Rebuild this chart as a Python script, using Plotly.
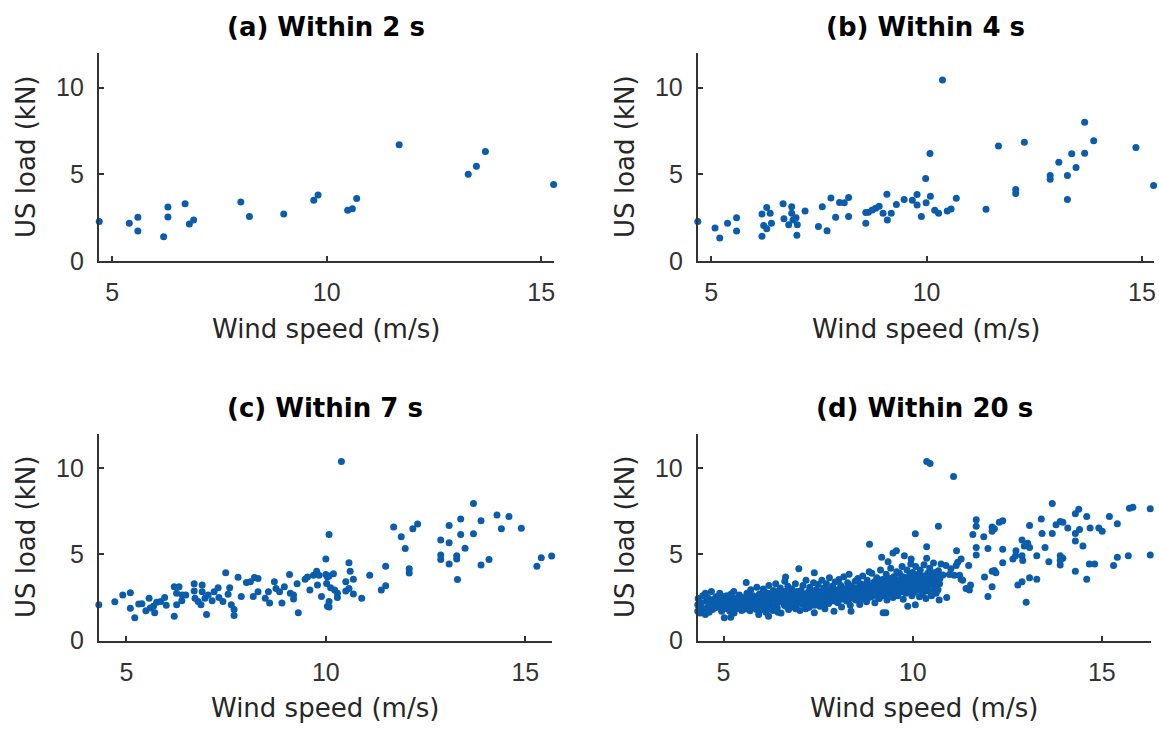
import plotly.graph_objects as go

# ---------------- data ----------------
panel_titles = ["(a) Within 2 s", "(b) Within 4 s", "(c) Within 7 s", "(d) Within 20 s"]
x_title = "Wind speed (m/s)"
y_title = "US load (kN)"
x_ticks = [5, 10, 15]
y_ticks = [0, 5, 10]

a_points = [
    (4.70, 2.28), (5.40, 2.18), (5.60, 2.52), (5.60, 1.73), (6.20, 1.40), (6.30, 3.11),
    (6.30, 2.54), (6.70, 3.30), (6.80, 2.13), (6.90, 2.37), (8.00, 3.40), (8.20, 2.56),
    (9.00, 2.71), (9.70, 3.51), (9.80, 3.80), (10.49, 2.92), (10.60, 3.02), (10.70, 3.61),
    (11.69, 6.70), (13.30, 5.00), (13.49, 5.46), (13.70, 6.32), (15.29, 4.41),
]

b_points = [
    (4.69, 2.28), (5.09, 1.90), (5.20, 1.33), (5.38, 2.18), (5.59, 2.50), (5.59, 1.73),
    (6.18, 2.71), (6.18, 1.42), (6.22, 2.05), (6.29, 3.09), (6.29, 1.86), (6.37, 2.75),
    (6.40, 2.18), (6.67, 3.30), (6.69, 2.43), (6.80, 2.09), (6.87, 3.13), (6.87, 2.75),
    (6.90, 2.37), (6.97, 2.50), (7.00, 2.09), (6.99, 1.48), (7.18, 2.88), (7.49, 1.99),
    (7.58, 3.13), (7.69, 1.75), (7.78, 3.64), (7.89, 2.52), (7.98, 3.38), (8.09, 3.36),
    (8.19, 3.66), (8.19, 2.56), (8.59, 2.79), (8.59, 2.18), (8.65, 2.81), (8.74, 2.94),
    (8.82, 3.04), (8.90, 3.15), (8.99, 2.75), (9.08, 3.85), (9.09, 2.37), (9.18, 2.75),
    (9.30, 3.26), (9.48, 3.55), (9.67, 3.51), (9.78, 3.83), (9.78, 3.23), (9.88, 2.56),
    (9.98, 4.76), (9.99, 3.36), (10.08, 6.20), (10.09, 3.74), (10.19, 2.92), (10.28, 2.75),
    (10.37, 10.44), (10.48, 2.88), (10.57, 3.00), (10.69, 3.62), (11.38, 2.98), (11.67, 6.64),
    (12.07, 4.12), (12.07, 3.89), (12.27, 6.85), (12.87, 4.93), (12.87, 4.71), (13.07, 5.69),
    (13.27, 4.93), (13.27, 3.55), (13.37, 6.19), (13.47, 5.39), (13.67, 8.01), (13.67, 6.22),
    (13.88, 6.94), (14.86, 6.55), (15.27, 4.35),
]

c_points = [
    (4.31, 2.08), (4.71, 2.25), (4.91, 2.65), (5.10, 2.77), (5.10, 1.88), (5.21, 1.33),
    (5.31, 2.12), (5.39, 2.14), (5.49, 1.74), (5.57, 2.46), (5.60, 1.89), (5.68, 1.99),
    (5.71, 1.61), (5.76, 2.23), (5.86, 2.27), (5.96, 2.50), (6.00, 2.05), (6.20, 3.13),
    (6.20, 1.42), (6.26, 2.75), (6.26, 2.08), (6.32, 3.13), (6.39, 2.31), (6.40, 2.65),
    (6.49, 2.65), (6.70, 3.30), (6.70, 2.88), (6.72, 2.46), (6.80, 2.27), (6.87, 2.08),
    (6.90, 3.22), (6.90, 2.84), (6.97, 2.46), (7.01, 1.52), (7.05, 2.65), (7.15, 2.31),
    (7.20, 2.84), (7.30, 3.07), (7.32, 2.50), (7.42, 2.27), (7.49, 3.94), (7.55, 2.69),
    (7.59, 3.07), (7.63, 2.08), (7.70, 1.80), (7.70, 1.46), (7.80, 3.67), (7.88, 2.56),
    (8.01, 3.37), (8.11, 3.41), (8.21, 3.66), (8.30, 3.60), (8.30, 2.84), (8.18, 2.56),
    (8.48, 2.46), (8.56, 2.84), (8.59, 2.18), (8.71, 3.41), (8.75, 3.03), (8.84, 2.84),
    (8.90, 2.18), (8.96, 3.13), (9.09, 3.83), (9.11, 2.75), (9.19, 2.65), (9.19, 2.42),
    (9.28, 3.30), (9.31, 1.61), (9.48, 3.56), (9.54, 3.69), (9.60, 2.94), (9.69, 3.79),
    (9.77, 4.02), (9.79, 3.22), (9.83, 3.79), (9.89, 2.56), (10.00, 4.73), (10.04, 3.69),
    (10.04, 1.99), (10.39, 10.38), (10.08, 6.16), (10.00, 3.83), (10.08, 3.75), (10.19, 3.88),
    (10.02, 3.31), (10.12, 3.07), (10.22, 2.94), (10.29, 2.75), (10.29, 2.50), (10.08, 2.27),
    (10.08, 1.95), (10.50, 3.41), (10.58, 4.51), (10.61, 4.02), (10.69, 3.56), (10.50, 2.88),
    (10.58, 3.03), (10.69, 2.71), (10.90, 2.46), (11.10, 3.79), (11.50, 4.32), (11.50, 3.18),
    (11.39, 2.94), (11.70, 6.59), (11.89, 6.02), (11.99, 5.34), (12.09, 4.17), (12.09, 3.92),
    (12.18, 6.48), (12.30, 6.76), (12.88, 5.83), (12.88, 4.96), (12.88, 4.70), (13.09, 6.67),
    (13.09, 5.68), (13.09, 4.45), (13.28, 4.92), (13.28, 4.73), (13.30, 3.54), (13.38, 7.05),
    (13.38, 6.16), (13.49, 5.36), (13.70, 7.95), (13.70, 6.19), (13.89, 6.95), (13.89, 4.39),
    (14.09, 4.70), (14.29, 7.29), (14.40, 6.48), (14.59, 7.20), (14.90, 6.52), (15.29, 4.32),
    (15.40, 4.81), (15.66, 4.91),
]

d_points = [
    (4.32, 2.08), (4.32, 1.70), (4.35, 1.95), (4.52, 2.75), (4.52, 1.52), (4.55, 2.30), (4.60, 2.00),
    (4.71, 2.37), (4.71, 1.80), (4.75, 2.10), (4.80, 2.55), (4.85, 1.95), (4.90, 2.75), (4.92, 2.20),
    (4.95, 1.70), (4.98, 2.40),
    (5.02, 1.33), (5.05, 2.05), (5.08, 2.60), (5.10, 1.85), (5.15, 2.30), (5.19, 1.36), (5.20, 2.70),
    (5.25, 2.00), (5.28, 1.60), (5.30, 2.45), (5.35, 2.15), (5.40, 1.90), (5.42, 2.65), (5.45, 2.30),
    (5.48, 1.75),
    (5.50, 2.50), (5.55, 2.10), (5.60, 3.37), (5.60, 1.85), (5.62, 2.75), (5.65, 2.35), (5.70, 1.74),
    (5.72, 2.95), (5.75, 2.20), (5.78, 2.60), (5.80, 1.95), (5.85, 2.45), (5.88, 3.10), (5.90, 2.05),
    (5.93, 1.52), (5.95, 2.70), (5.98, 2.30),
    (6.00, 1.80), (6.02, 2.55), (6.05, 3.00), (6.08, 2.15), (6.10, 2.80), (6.12, 1.65), (6.15, 2.40),
    (6.19, 1.42), (6.20, 3.20), (6.22, 2.00), (6.25, 2.65), (6.28, 2.25), (6.30, 1.75), (6.32, 2.90),
    (6.35, 2.45), (6.38, 3.30), (6.40, 2.10), (6.42, 1.90), (6.45, 2.70), (6.48, 2.35),
    (6.50, 3.05), (6.52, 1.60), (6.55, 2.55), (6.58, 2.20), (6.60, 2.85), (6.62, 3.45), (6.64, 3.69),
    (6.65, 2.00), (6.68, 2.40), (6.70, 3.15), (6.72, 1.80), (6.75, 2.70), (6.78, 2.25), (6.80, 3.00),
    (6.82, 2.50), (6.85, 1.95), (6.88, 2.80), (6.90, 3.30), (6.92, 2.10), (6.95, 2.60), (6.99, 4.17),
    (6.98, 2.35),
    (7.02, 1.75), (7.05, 2.90), (7.08, 2.45), (7.10, 3.20), (7.12, 2.10), (7.15, 2.70), (7.18, 3.50),
    (7.20, 2.30), (7.22, 1.90), (7.25, 2.85), (7.28, 3.10), (7.30, 2.50), (7.32, 2.15), (7.35, 2.75),
    (7.38, 3.35), (7.40, 3.94), (7.40, 1.61), (7.42, 2.40), (7.45, 2.95), (7.48, 2.20),
    (7.50, 3.25), (7.52, 2.60), (7.55, 2.00), (7.58, 2.85), (7.60, 3.50), (7.62, 2.35), (7.65, 3.05),
    (7.68, 1.85), (7.70, 2.70), (7.72, 3.30), (7.75, 2.50), (7.78, 2.15), (7.80, 3.65), (7.82, 2.90),
    (7.85, 2.40), (7.88, 3.15), (7.90, 2.75), (7.92, 1.70), (7.95, 3.40), (7.98, 2.55),
    (8.00, 2.95), (8.02, 2.20), (8.05, 3.55), (8.08, 2.65), (8.10, 3.20), (8.12, 1.95), (8.15, 2.80),
    (8.18, 3.70), (8.20, 2.45), (8.22, 3.00), (8.25, 2.30), (8.28, 3.35), (8.30, 2.70), (8.32, 3.85),
    (8.35, 2.05), (8.37, 1.70), (8.40, 3.10), (8.42, 2.55), (8.45, 2.90), (8.48, 3.45),
    (8.50, 2.35), (8.52, 3.00), (8.55, 3.60), (8.58, 2.60), (8.60, 2.10), (8.62, 3.30), (8.65, 2.80),
    (8.68, 3.75), (8.70, 2.45), (8.72, 3.15), (8.75, 2.90), (8.78, 2.25), (8.80, 3.50), (8.82, 2.70),
    (8.85, 4.00), (8.86, 5.59), (8.88, 3.20), (8.90, 2.55), (8.92, 3.90), (8.95, 2.95), (8.98, 3.40),
    (9.00, 2.20), (9.02, 3.05), (9.05, 3.65), (9.08, 2.75), (9.10, 3.30), (9.12, 2.45), (9.15, 4.10),
    (9.18, 4.83), (9.18, 2.90), (9.20, 3.55), (9.22, 1.61), (9.25, 2.60), (9.28, 3.20), (9.29, 1.61),
    (9.30, 3.85), (9.32, 2.35), (9.35, 4.58), (9.35, 3.00), (9.38, 3.45), (9.40, 2.70), (9.42, 4.20),
    (9.45, 3.10), (9.48, 5.08), (9.48, 2.50),
    (9.50, 3.70), (9.52, 2.85), (9.55, 3.35), (9.57, 5.21), (9.58, 4.00), (9.60, 2.60), (9.62, 3.20),
    (9.65, 3.90), (9.68, 2.95), (9.70, 3.50), (9.72, 4.30), (9.75, 2.40), (9.78, 4.92), (9.78, 3.05),
    (9.80, 3.65), (9.82, 2.75), (9.85, 4.10), (9.87, 1.99), (9.88, 3.30), (9.90, 2.90), (9.92, 3.80),
    (9.95, 4.45), (9.96, 4.73), (9.98, 3.15), (9.98, 2.60),
    (10.00, 3.95), (10.02, 3.40), (10.05, 2.80), (10.07, 6.19), (10.07, 2.08), (10.08, 4.30),
    (10.10, 3.60), (10.12, 3.00), (10.15, 3.85), (10.18, 2.55), (10.20, 4.10), (10.22, 3.30),
    (10.25, 2.70), (10.28, 3.75), (10.30, 4.40), (10.32, 3.10), (10.35, 2.45), (10.37, 5.45),
    (10.37, 4.77), (10.38, 3.55), (10.40, 3.90), (10.42, 2.90), (10.45, 4.20), (10.48, 3.35),
    (10.50, 2.60), (10.52, 3.70), (10.55, 4.50), (10.58, 3.00), (10.60, 3.95), (10.62, 2.75),
    (10.65, 3.45), (10.68, 6.63), (10.68, 4.05), (10.70, 2.35), (10.72, 3.60), (10.75, 4.45),
    (10.80, 3.80), (10.88, 4.36), (10.90, 2.50), (10.97, 3.83), (11.01, 4.17), (11.10, 3.79),
    (11.15, 4.36), (11.24, 3.79), (11.28, 3.56), (11.32, 3.50), (11.41, 3.03), (11.50, 2.94),
    (11.53, 3.22),
    # denser part of the main band
    (4.33, 2.45), (4.38, 1.60), (4.42, 2.20), (4.45, 2.60), (4.48, 1.85), (4.58, 2.50), (4.62, 1.65),
    (4.66, 2.25), (4.68, 2.85), (4.78, 1.90), (4.82, 2.35), (4.88, 2.05), (4.94, 2.60), (5.00, 1.95),
    (5.03, 2.40), (5.12, 2.15), (5.17, 1.70), (5.22, 2.35), (5.27, 2.85), (5.33, 1.85), (5.38, 2.40),
    (5.44, 2.05), (5.52, 1.80), (5.57, 2.25), (5.63, 2.05), (5.67, 2.60), (5.73, 1.95), (5.77, 2.40),
    (5.82, 2.15), (5.87, 1.80), (5.92, 2.55), (5.97, 1.95), (6.04, 2.30), (6.07, 1.95), (6.11, 2.55),
    (6.14, 2.05), (6.17, 2.75), (6.24, 1.85), (6.27, 2.45), (6.33, 2.15), (6.37, 2.65), (6.41, 2.35),
    (6.44, 1.65), (6.47, 2.90), (6.53, 2.30), (6.57, 2.75), (6.61, 2.05), (6.67, 2.60), (6.71, 2.30),
    (6.74, 1.95), (6.77, 2.95), (6.81, 2.15), (6.84, 2.60), (6.87, 2.40), (6.91, 1.85), (6.94, 2.85),
    (6.97, 2.15), (7.03, 2.55), (7.07, 2.15), (7.11, 2.60), (7.14, 2.35), (7.17, 1.85), (7.21, 2.65),
    (7.24, 2.45), (7.27, 1.95), (7.31, 2.85), (7.34, 2.35), (7.37, 2.55), (7.41, 2.05), (7.44, 2.65),
    (7.47, 2.40), (7.51, 2.80), (7.54, 2.25), (7.57, 2.45), (7.61, 2.65), (7.64, 2.15), (7.67, 2.85),
    (7.71, 2.40), (7.74, 2.95), (7.77, 2.60), (7.81, 2.25), (7.84, 2.75), (7.87, 2.50), (7.91, 2.95),
    (7.94, 2.30), (7.97, 2.80), (8.03, 2.50), (8.07, 2.85), (8.11, 2.40), (8.14, 3.05), (8.17, 2.60),
    (8.21, 2.85), (8.24, 2.55), (8.27, 2.95), (8.31, 2.40), (8.34, 3.20), (8.38, 2.65), (8.41, 2.85),
    (8.44, 2.45), (8.47, 3.05), (8.51, 2.75), (8.54, 2.50), (8.57, 3.10), (8.61, 2.85), (8.64, 2.40),
    (8.67, 3.00), (8.71, 2.65), (8.74, 3.25), (8.77, 2.75), (8.81, 3.05), (8.84, 2.50), (8.87, 2.85),
    (8.91, 3.15), (8.94, 2.65), (8.97, 3.00), (9.01, 2.80), (9.04, 3.30), (9.07, 2.55), (9.11, 3.00),
    (9.14, 3.40), (9.17, 2.65), (9.21, 3.05), (9.24, 2.85), (9.27, 3.50), (9.31, 2.75), (9.34, 3.25),
    (9.37, 2.90), (9.41, 3.60), (9.44, 2.80), (9.47, 3.35), (9.51, 3.05), (9.54, 2.70), (9.57, 3.45),
    (9.61, 3.00), (9.64, 3.55), (9.67, 2.80), (9.71, 3.25), (9.74, 3.70), (9.77, 2.90), (9.81, 3.40),
    (9.84, 3.05), (9.87, 3.60), (9.91, 3.25), (9.94, 2.80), (9.97, 3.45), (10.01, 3.05), (10.04, 3.70),
    (10.09, 3.25), (10.13, 3.50), (10.17, 2.95), (10.21, 3.65), (10.24, 3.20), (10.27, 3.45),
    (10.31, 2.85), (10.34, 3.70), (10.39, 3.20), (10.44, 3.50), (10.47, 2.80), (10.51, 3.25),
    (10.54, 3.90), (10.57, 3.50), (10.61, 3.20), (10.64, 3.75), (10.67, 2.95), (10.71, 3.30),
    # outliers and the sparse high-speed part
    (10.37, 10.38), (10.46, 10.27), (11.08, 9.51),
    (11.16, 5.21), (11.19, 4.55), (11.28, 4.73), (11.48, 4.36), (11.68, 7.01), (11.68, 6.63),
    (11.59, 6.16), (11.68, 5.40), (11.68, 4.96), (11.88, 6.02), (11.99, 5.34), (12.10, 6.59),
    (12.10, 6.34), (12.16, 6.48), (12.29, 6.86), (12.38, 6.95), (12.38, 5.30), (12.38, 4.51),
    (12.10, 4.02), (12.16, 4.07), (12.20, 3.94), (11.90, 3.69), (12.10, 3.13), (11.99, 2.56),
    (12.65, 4.73), (12.72, 4.92), (12.73, 5.21), (12.89, 5.83), (12.95, 5.49), (13.04, 5.64),
    (13.09, 5.40), (12.89, 4.92), (12.91, 4.64), (12.78, 3.22), (12.89, 3.41), (13.00, 2.23),
    (13.09, 3.64), (13.28, 4.92), (13.28, 3.56), (13.09, 6.67), (13.40, 7.05), (13.50, 5.40),
    (13.60, 4.58), (13.69, 7.95), (13.69, 6.21), (13.42, 6.21), (13.79, 6.72), (13.90, 6.91),
    (13.90, 4.92), (13.90, 4.39), (13.97, 6.86), (14.10, 6.53), (14.30, 6.21), (14.30, 5.78),
    (14.41, 6.44), (14.39, 7.61), (14.30, 7.35), (14.50, 5.49), (14.30, 4.02), (14.60, 7.20),
    (14.60, 3.56), (14.69, 6.53), (14.67, 4.45), (14.81, 4.45), (14.92, 6.53), (15.01, 6.34),
    (15.20, 7.20), (15.31, 4.36), (15.41, 6.78), (15.41, 4.83), (15.70, 4.92), (15.73, 7.67),
    (15.82, 7.73), (16.28, 7.65), (16.28, 4.96), (13.97, 4.77), (13.90, 4.64),
]

panels = [a_points, b_points, c_points, d_points]
x_ranges = [[4.69, 15.30], [4.69, 15.28], [4.31, 15.67], [4.32, 16.30]]
y_range = [0, 12]

# ---------------- layout geometry (pixels of the 1159x740 page) ----------------
W, H = 1159, 740
plot_px = [  # left, right, top, bottom
    (99, 555, 54, 266),
    (699, 1156, 54, 266),
    (99, 553, 442, 653),
    (699, 1153, 442, 653),
]

marker_color = "#0A5CAD"
axis_color = "#333333"
tick_font = dict(family="Liberation Sans, Arial, sans-serif", size=25, color="#333333")
label_font = dict(family="DejaVu Sans, sans-serif", size=26, color="#262626")
title_font = dict(family="DejaVu Sans, sans-serif", size=26, color="#000000", weight="bold")

fig = go.Figure()
layout = dict(
    width=W, height=H,
    margin=dict(l=0, r=0, t=0, b=0),
    paper_bgcolor="white", plot_bgcolor="white",
    showlegend=False,
)
annotations = []

for i, pts in enumerate(panels):
    n = "" if i == 0 else str(i + 1)
    xs = [p[0] for p in pts]
    ys = [p[1] for p in pts]
    fig.add_trace(go.Scatter(
        x=xs, y=ys, mode="markers",
        marker=dict(size=7, color=marker_color, line=dict(width=0)),
        xaxis="x" + n, yaxis="y" + n, cliponaxis=False,
    ))
    l, r, t, b = plot_px[i]
    layout["xaxis" + n] = dict(
        domain=[l / W, r / W], range=x_ranges[i], anchor="y" + n,
        tickvals=x_ticks, ticks="inside", ticklen=5, tickwidth=1.5, tickcolor=axis_color,
        showline=True, linecolor=axis_color, linewidth=2,
        showgrid=False, zeroline=False, tickfont=tick_font, ticklabelstandoff=8,
    )
    layout["yaxis" + n] = dict(
        domain=[1 - b / H, 1 - t / H], range=y_range, anchor="x" + n,
        tickvals=y_ticks, ticks="inside", ticklen=5, tickwidth=1.5, tickcolor=axis_color,
        showline=True, linecolor=axis_color, linewidth=2,
        showgrid=False, zeroline=False, tickfont=tick_font, ticklabelstandoff=8,
    )
    cx = (l + r) / 2
    annotations.append(dict(
        text=panel_titles[i], x=cx / W, y=1 - (t - 26) / H, xref="paper", yref="paper",
        xanchor="center", yanchor="middle", showarrow=False, font=title_font,
    ))
    annotations.append(dict(
        text=x_title, x=cx / W, y=1 - (b + 69) / H, xref="paper", yref="paper",
        xanchor="center", yanchor="middle", showarrow=False, font=label_font,
    ))
    annotations.append(dict(
        text=y_title, x=(l - 73) / W, y=1 - ((t + b) / 2) / H, xref="paper", yref="paper",
        xanchor="center", yanchor="middle", showarrow=False, textangle=-90, font=label_font,
    ))

layout["annotations"] = annotations
fig.update_layout(**layout)

fig.write_html(
    "out.html",
    config={"displayModeBar": False},
    post_script="document.body.style.margin='0';document.body.style.overflow='hidden';",
)
